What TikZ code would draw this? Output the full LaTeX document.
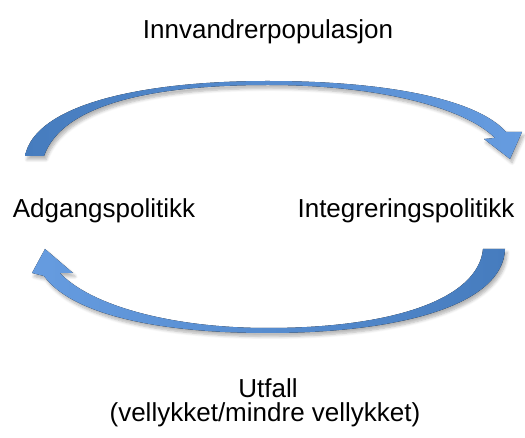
\documentclass[tikz,border=0pt]{standalone}
\usepackage{fontspec}
\setmainfont{Liberation Sans}
\usetikzlibrary{shadows.blur}

\definecolor{arrowdark}{RGB}{70,124,190}
\definecolor{arrowlight}{RGB}{102,156,224}

\tikzset{
  labeltext/.style={font=\fontsize{18.5}{22}\selectfont, inner sep=0pt, anchor=base},
  bluearrow/.style={draw=none, blur shadow={shadow xshift=1.5pt, shadow yshift=-2.5pt, shadow blur steps=6, shadow opacity=30}},
}

\begin{document}
\begin{tikzpicture}[x=0.025cm, y=-0.025cm]
      \useasboundingbox (0,0) rectangle (525,438);

      \node[labeltext] (innv) at (268,39) {Innvandrerpopulasjon};
      \node[labeltext] (adgang) at (104,218) {Adgangspolitikk};
      \node[labeltext] (integ) at (406,218) {Integreringspolitikk};
      \node[labeltext] (utfall) at (268,397) {Utfall};
      \node[labeltext] (vellykket) at (265,421) {(vellykket/mindre vellykket)};

      % upper arrow, left to right
      \fill[bluearrow, left color=arrowdark, right color=arrowlight]
        (25,156) .. controls (35,105) and (140,81) .. (268,81)
        .. controls (390,81) and (478,100) .. (506,132)
        -- (522,132) -- (510,159) -- (484,139) -- (495,138)
        .. controls (465,108) and (380,85) .. (268,85)
        .. controls (150,85) and (62,105) .. (44,156) -- cycle;

      % lower arrow, right to left
      \fill[bluearrow, left color=arrowlight, right color=arrowdark]
        (483,249) -- (505,249)
        .. controls (503,305) and (400,333) .. (268,333)
        .. controls (150,333) and (70,312) .. (44,276)
        -- (32,273) -- (45,249) -- (73,273) -- (60,273)
        .. controls (90,305) and (170,328) .. (268,328)
        .. controls (390,328) and (478,300) .. (483,249) -- cycle;

    \end{tikzpicture}
\end{document}
